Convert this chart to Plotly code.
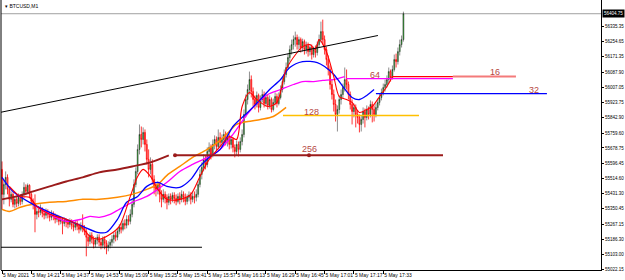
import plotly.graph_objects as go
import pandas as pd

# ---------------- data (BTCUSD, M1, 5 May 2021) ----------------
bar_start = "2021-05-05 14:05"

opens = [55563,
55428,55482,55520,55455,55401,55428,55374,55401,55379,55412,
55390,55428,55466,55444,55477,55428,55390,55374,55320,55336,
55331,55347,55325,55315,55336,55320,55304,55325,55309,55293,
55304,55282,55293,55271,55288,55277,55266,55282,55261,55250,
55271,55255,55239,55261,55244,55228,55196,55174,55207,55185,
55158,55180,55196,55169,55153,55185,55163,55142,55153,55169,
55185,55207,55196,55228,55250,55239,55271,55261,55293,55282,
55320,55374,55482,55552,55671,55752,55725,55763,55698,55617,
55563,55590,55509,55466,55455,55482,55428,55401,55428,55412,
55385,55417,55401,55423,55406,55390,55417,55401,55428,55412,
55390,55412,55423,55401,55417,55412,55428,55482,55536,55574,
55617,55590,55660,55682,55644,55698,55725,55687,55736,55709,
55725,55752,55714,55736,55698,55725,55682,55660,55698,55671,
55714,55752,55860,55941,55995,56049,55984,55941,55914,55963,
55898,55941,55968,55919,55952,55909,55941,55887,55925,55957,
55919,55952,55995,56038,56076,56114,56168,56211,56238,56265,
56276,56238,56265,56222,56254,56211,56233,56200,56222,56184,
56211,56195,56238,56265,56308,56265,56211,56157,56103,56022,
55968,55914,55860,55887,55941,55968,56006,56049,56022,55968,
55914,55876,55898,55860,55844,55806,55833,55876,55844,55887,
55860,55914,55887,55860,55898,55925,55952,55979,56006,56022,
56049,56092,56060,56103,56157,56146,56200,56238,56265]

closes = [
55428,55482,55520,55455,55401,55428,55374,55401,55379,55412,
55390,55428,55466,55444,55477,55428,55390,55374,55320,55336,
55331,55347,55325,55315,55336,55320,55304,55325,55309,55293,
55304,55282,55293,55271,55288,55277,55266,55282,55261,55250,
55271,55255,55239,55261,55244,55228,55196,55174,55207,55185,
55158,55180,55196,55169,55153,55185,55163,55142,55153,55169,
55185,55207,55196,55228,55250,55239,55271,55261,55293,55282,
55320,55374,55482,55552,55671,55752,55725,55763,55698,55617,
55563,55590,55509,55466,55455,55482,55428,55401,55428,55412,
55385,55417,55401,55423,55406,55390,55417,55401,55428,55412,
55390,55412,55423,55401,55417,55412,55428,55482,55536,55574,
55617,55590,55660,55682,55644,55698,55725,55687,55736,55709,
55725,55752,55714,55736,55698,55725,55682,55660,55698,55671,
55714,55752,55860,55941,55995,56049,55984,55941,55914,55963,
55898,55941,55968,55919,55952,55909,55941,55887,55925,55957,
55919,55952,55995,56038,56076,56114,56168,56211,56238,56265,
56276,56238,56265,56222,56254,56211,56233,56200,56222,56184,
56211,56195,56238,56265,56308,56265,56211,56157,56103,56022,
55968,55914,55860,55887,55941,55968,56006,56049,56022,55968,
55914,55876,55898,55860,55844,55806,55833,55876,55844,55887,
55860,55914,55887,55860,55898,55925,55952,55979,56006,56022,
56049,56092,56060,56103,56157,56146,56200,56238,56265,56404.75]

highs = [
55606,55509,55552,55536,55471,55444,55439,55417,55423,55433,
55428,55444,55493,55482,55487,55482,55439,55406,55428,55358,
55358,55374,55358,55342,55352,55347,55336,55342,55336,55325,
55320,55315,55309,55304,55304,55298,55293,55298,55293,55277,
55288,55288,55271,55277,55320,55261,55244,55212,55223,55223,
55201,55196,55212,55212,55185,55201,55201,55180,55174,55185,
55207,55223,55228,55244,55266,55271,55288,55293,55315,55315,
55347,55401,55509,55574,55698,55806,55795,55790,55779,55725,
55671,55628,55617,55531,55493,55498,55493,55450,55455,55444,
55428,55433,55433,55439,55439,55428,55433,55439,55450,55444,
55433,55428,55444,55439,55439,55444,55455,55498,55563,55601,
55644,55639,55682,55709,55698,55725,55747,55741,55779,55763,
55752,55779,55768,55757,55752,55747,55736,55698,55720,55714,
55736,55779,55887,55968,56022,56092,56071,56006,55963,55984,
55973,55963,55995,55984,55973,55968,55963,55952,55946,55979,
55973,55979,56017,56060,56103,56141,56189,56233,56265,56287,
56308,56292,56281,56276,56270,56265,56254,56249,56238,56238,
56227,56233,56254,56292,56362,56373,56287,56227,56179,56125,
56049,55995,55941,55909,55963,55995,56027,56114,56103,56038,
55984,55941,55919,55914,55882,55860,55855,55898,55892,55909,
55903,55936,55930,55909,55919,55946,55973,56000,56027,56049,
56071,56114,56103,56125,56184,56189,56222,56265,56287,56416]

lows = [
55347,55374,55455,55428,55363,55385,55358,55352,55358,55363,
55369,55374,55417,55423,55433,55406,55374,55347,55223,55293,
55304,55315,55304,55293,55298,55298,55282,55288,55288,55271,
55277,55261,55266,55212,55255,55250,55244,55250,55239,55228,
55234,55234,55217,55228,55223,55207,55093,55147,55158,55163,
55136,55142,55158,55147,55131,55136,55131,55104,55120,55136,
55147,55163,55174,55180,55212,55217,55228,55239,55244,55261,
55266,55304,55358,55466,55536,55644,55682,55698,55660,55590,
55520,55536,55482,55428,55417,55428,55385,55358,55385,55379,
55347,55369,55374,55385,55379,55369,55379,55374,55385,55385,
55369,55374,55390,55374,55385,55379,55390,55412,55466,55509,
55552,55563,55574,55633,55617,55628,55671,55660,55671,55682,
55687,55698,55693,55687,55671,55676,55655,55628,55639,55633,
55655,55693,55736,55844,55914,55968,55952,55903,55887,55898,
55871,55882,55925,55898,55903,55887,55892,55871,55876,55909,
55898,55909,55941,55979,56022,56060,56103,56146,56184,56211,
56227,56211,56211,56195,56200,56184,56189,56173,56179,56157,
56168,56168,56179,56222,56249,56238,56184,56125,56071,55995,
55941,55876,55822,55768,55865,55914,55946,55984,55995,55941,
55887,55806,55844,55790,55811,55763,55768,55811,55790,55828,
55833,55844,55817,55822,55844,55882,55909,55936,55963,55984,
56006,56027,56038,56049,56092,56114,56130,56179,56222,56254]

# moving averages: bar number -> value
ma16_bar = [4,10,15,19,26,35,43,48,53,59,64,70,74,77,81,85,90,97,103,108,113,119,124,128,131,
            135,139,145,150,155,161,164,168,171,173,177,181,184,188,191,195,199,202,206,210,213]
ma16_val = [55471,55417,55412,55363,55320,55293,55255,55201,55185,55212,55255,55417,55525,55563,55525,
            55455,55401,55401,55428,55525,55617,55687,55741,55725,55903,55979,55941,55903,55925,56103,
            56195,56227,56238,56211,56265,56200,56065,55957,55941,55925,55871,55887,55903,55957,56011,56065]
ma32_bar = [0,6,17,26,35,44,52,57,63,68,74,79,85,90,97,103,108,113,119,126,134,141,146,152,157,
            164,172,176,181,186,191,195,199,203]
ma32_val = [55520,55444,55374,55331,55293,55255,55223,55223,55293,55385,55417,55471,55493,55471,55466,
            55509,55579,55628,55671,55795,55871,55941,55995,56049,56114,56146,56141,56119,56076,56011,
            55952,55941,55963,55995]
ma64_bar = [17,26,35,43,48,53,59,64,71,79,85,90,97,104,112,119,126,135,145,152,159,164,170,175,181,187]
ma64_val = [55374,55320,55282,55293,55309,55304,55320,55347,55385,55417,55455,55493,55552,55590,55628,
            55671,55752,55876,55968,55995,56022,56038,56038,56044,56049,56065]
ma128_bar = [0,4,10,17,26,35,44,53,63,71,79,85,90,97,104,112,119,124,128,134,141,148,155]
ma128_val = [55347,55336,55358,55374,55385,55390,55401,55401,55412,55428,55455,55482,55531,55579,55628,
             55671,55720,55768,55806,55822,55833,55849,55898]
ma256_bar = [0,8,17,26,35,44,53,63,71,81,91]
ma256_val = [55401,55417,55444,55471,55498,55520,55547,55563,55579,55601,55639]

# horizontal MA levels: label, price, start bar, end bar
level_names = ["256", "128", "64", "32", "16"]
level_price = [55639, 55855, 56054, 55973, 56065]
level_from = [94.4, 153.3, 187.7, 204.0, 212.8]
level_to = [240.6, 227.5, 246.0, 297.3, 246.0]
level16_ext_to = 280.4

# trend lines (bar, price)
upper_trend_bar = [-1.1, 205.1]
upper_trend_val = [55871, 56287]
lower_line_bar = [-1.1, 109.1]
lower_line_val = [55142, 55142]

bid = 56404.75
x_tick_labels = ["5 May 2021", "5 May 14:21", "5 May 14:37", "5 May 14:53", "5 May 15:09",
                 "5 May 15:25", "5 May 15:41", "5 May 15:57", "5 May 16:13", "5 May 16:29",
                 "5 May 16:45", "5 May 17:01", "5 May 17:17", "5 May 17:33"]
y_tick_vals = [55022.15, 55103.00, 55186.30, 55267.15, 55350.45, 55431.30, 55514.60, 55596.45,
               55678.75, 55759.60, 55842.90, 55923.75, 56007.05, 56087.90, 56171.35, 56254.65, 56335.35]

# ---------------- figure ----------------
T0 = pd.Timestamp(bar_start)


def tm(b):
    return T0 + pd.Timedelta(minutes=float(b))


times = [tm(i) for i in range(len(closes))]

fig = go.Figure()

fig.add_trace(go.Candlestick(
    x=times, open=opens, high=highs, low=lows, close=closes,
    increasing=dict(line=dict(color="#1a1a1a", width=0.5), fillcolor="#2fc42f"),
    decreasing=dict(line=dict(color="#ff0000", width=0.8), fillcolor="#ff9090"),
    whiskerwidth=0, hoverinfo="skip", showlegend=False))


def add_line(bars, vals, color, width, shape="spline"):
    fig.add_trace(go.Scatter(x=[tm(b) for b in bars], y=vals, mode="lines",
                             line=dict(color=color, width=width, shape=shape, smoothing=0.8),
                             hoverinfo="skip", showlegend=False))


add_line(ma256_bar, ma256_val, "#9b1b1b", 2)
add_line(ma128_bar, ma128_val, "#ff8c00", 1.5)
add_line(ma64_bar, ma64_val, "#ff00ff", 1.3)
add_line(ma32_bar, ma32_val, "#0000ff", 1.3)
add_line(ma16_bar, ma16_val, "#ff0000", 1.1)

level_colors = ["#9b1b1b", "#ffc000", "#ff00ff", "#0000ff", "#ff0000"]
level_widths = [2, 1.5, 1.2, 1.2, 1.2]
for name, p, a, b, c, w in zip(level_names, level_price, level_from, level_to, level_colors, level_widths):
    add_line([a, b], [p, p], c, w, shape="linear")
add_line([level_to[4], level16_ext_to], [level_price[4]] * 2, "#f47a7a", 2, shape="linear")

# small circle anchors on the 256 line
fig.add_trace(go.Scatter(x=[tm(level_from[0]), tm(167.5)], y=[level_price[0]] * 2, mode="markers",
                         marker=dict(size=4, color="#9b1b1b", symbol="circle"),
                         hoverinfo="skip", showlegend=False))

add_line(upper_trend_bar, upper_trend_val, "#000000", 1, shape="linear")
add_line(lower_line_bar, lower_line_val, "#000000", 1, shape="linear")

# labels of levels
label_bar = [168, 169, 203.5, 290, 269]
label_price = [55671, 55876, 56071, 55995, 56087]
for name, b, p in zip(level_names, label_bar, label_price):
    fig.add_annotation(x=tm(b), y=p, text=name, showarrow=False,
                       font=dict(family="Liberation Sans", size=9, color="#b5473f"))

# bid line and price box
fig.add_shape(type="line", xref="paper", x0=0, x1=1, yref="y", y0=bid, y1=bid,
              line=dict(color="#a0a0a0", width=1), layer="below")
fig.add_annotation(xref="paper", x=1, xanchor="left", xshift=1, y=bid, yref="y",
                   text=f"{bid:.2f}", showarrow=False, bgcolor="#000000", borderpad=1,
                   font=dict(family="Liberation Sans", size=4.5, color="#ffffff"))
# left border
fig.add_shape(type="line", xref="paper", x0=0, x1=0, yref="paper", y0=0, y1=1,
              line=dict(color="#000000", width=1))
# title
fig.add_annotation(xref="paper", yref="paper", x=0.003, y=0.995, xanchor="left", yanchor="top",
                   text="▾ BTCUSD,M1", showarrow=False,
                   font=dict(family="Liberation Sans", size=5, color="#000000"))

fig.update_layout(
    width=625, height=280,
    margin=dict(l=1, r=24, t=0, b=10, autoexpand=False),
    paper_bgcolor="#ffffff", plot_bgcolor="#ffffff",
    showlegend=False,
    xaxis=dict(type="date", range=[tm(-0.545), tm(326.8)], rangeslider=dict(visible=False),
               showgrid=False, zeroline=False, showline=True, linecolor="#000000", linewidth=1,
               ticks="outside", ticklen=3, tickcolor="#000000", tickangle=0, automargin=False,
               tickvals=[tm(16 * k) for k in range(len(x_tick_labels))], ticktext=x_tick_labels,
               ticklabelposition="outside right",
               tickfont=dict(family="Liberation Sans", size=5, color="#000000")),
    yaxis=dict(range=[55019, 56479], side="right", showgrid=False, zeroline=False,
               showline=True, linecolor="#000000", linewidth=1, automargin=False,
               ticks="outside", ticklen=2, tickcolor="#000000", ticklabelstandoff=0,
               tickvals=y_tick_vals, ticktext=[f"{v:.2f}" for v in y_tick_vals],
               tickfont=dict(family="Liberation Sans", size=4.5, color="#000000")),
)

fig.write_html("out.html")
